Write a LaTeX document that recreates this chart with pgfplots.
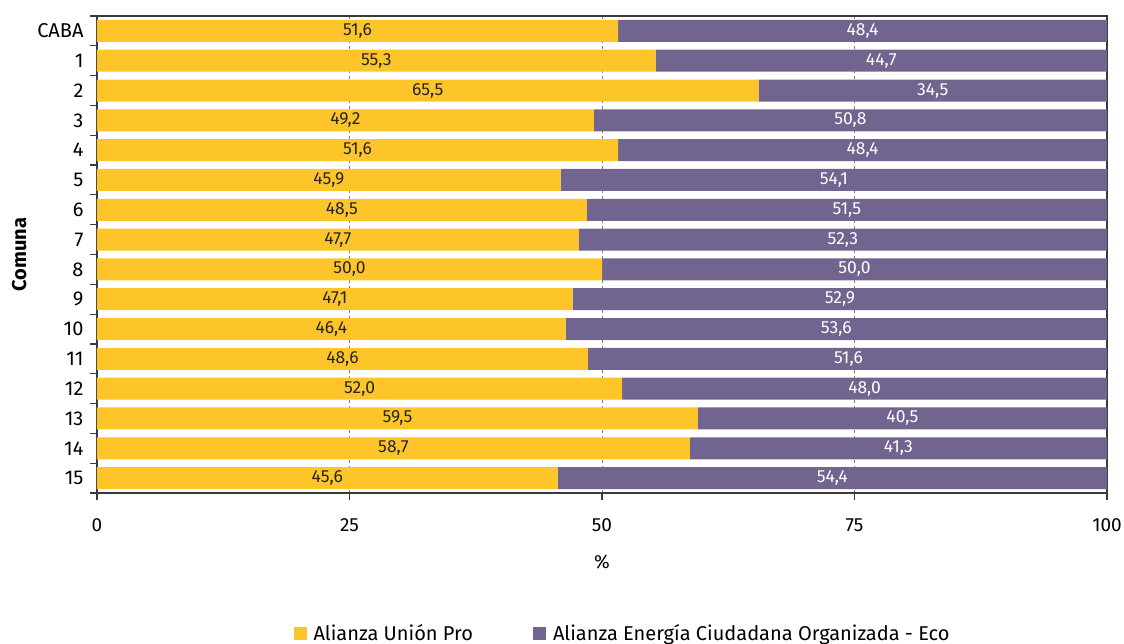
\documentclass[border=0pt]{standalone}
\usepackage{pgfplots}
\pgfplotsset{compat=1.18}
\usepackage{pgfplotstable}
\usepackage{fontspec}
\setmainfont{Fira Sans}
\definecolor{cy}{HTML}{FDC52A}
\definecolor{cp}{HTML}{716590}
\definecolor{axc}{HTML}{3A3A3A}
% idx: 15 = CABA (top), 0 = Comuna 15 (bottom)
\pgfplotstableread{
idx pro eco
15 51.6 48.4
14 55.3 44.7
13 65.5 34.5
12 49.2 50.8
11 51.6 48.4
10 45.9 54.1
9 48.5 51.5
8 47.7 52.3
7 50.0 50.0
6 47.1 52.9
5 46.4 53.6
4 48.6 51.6
3 52.0 48.0
2 59.5 40.5
1 58.7 41.3
0 45.6 54.4
}\data
\pgfplotsset{/pgf/number format/assume math mode=true}
\begin{document}
\begin{tikzpicture}
\path[use as bounding box] (-97pt,-151pt) rectangle (1027pt,493pt);
\begin{axis}[
  at={(0,0)}, anchor=south west,
  width=1010pt, height=477pt, scale only axis,
  xbar stacked, bar width=22pt,
  xmin=0, xmax=100, ymin=-0.5, ymax=15.5,
  xtick={0,25,50,75,100},
  ytick={-0.5,0.5,1.5,2.5,3.5,4.5,5.5,6.5,7.5,8.5,9.5,10.5,11.5,12.5,13.5,14.5,15.5},
  yticklabels={},
  extra y ticks={0,1,2,3,4,5,6,7,8,9,10,11,12,13,14,15},
  extra y tick labels={15,14,13,12,11,10,9,8,7,6,5,4,3,2,1,CABA},
  extra y tick style={major tick length=0pt, tick style={draw=none},
    yticklabel style={xshift=-10pt}},
  xtick pos=bottom, ytick pos=left,
  tick align=outside,
  major tick length=7pt,
  tick style={axc, line width=1.2pt},
  axis line style={axc, line width=1.2pt},
  xmajorgrids,
  major x grid style={dashed, gray, line width=0.8pt},
  font=\fontsize{19}{22}\selectfont,
  xticklabel style={font=\fontsize{19}{22}\selectfont, yshift=-15pt},
  yticklabel style={font=\fontsize{20}{23}\selectfont},
  xlabel={\%},
  xlabel style={yshift=-16pt},
  ylabel={\bfseries Comuna},
  ylabel style={font=\fontsize{20}{23}\selectfont, yshift=-3pt},
  legend columns=2,
  legend style={draw=none, at={(0.5203,-0.2935)}, anchor=center,
    font=\fontsize{20}{23}\selectfont,
    /tikz/every even column/.append style={column sep=58pt}},
  legend image code/.code={\fill[#1] (0pt,-6.5pt) rectangle (13pt,6.5pt); \path (18pt,0pt);},
]
\addplot[fill=cy, draw=none] table[x=pro, y=idx] {\data};
\addlegendentry{Alianza Unión Pro}
\addplot[fill=cp, draw=none] table[x=eco, y=idx] {\data};
\addlegendentry{Alianza Energía Ciudadana Organizada - Eco}
\end{axis}
\begin{axis}[
  at={(0,0)}, anchor=south west,
  width=1010pt, height=477pt, scale only axis,
  xmin=0, xmax=100, ymin=-0.5, ymax=15.5,
  hide axis, clip=false,
  point meta=explicit,
  nodes near coords={\pgfmathprintnumber[fixed,fixed zerofill,precision=1,use comma]{\pgfplotspointmeta}},
  every node near coord/.append style={anchor=center, inner sep=0pt, font=\fontsize{17.5}{20}\selectfont},
]
\addplot[draw=none, mark=none, nodes near coords style={text=black!85}] table[x expr=\thisrow{pro}/2, y=idx, meta=pro] {\data};
\addplot[draw=none, mark=none, nodes near coords style={text=white}] table[x expr=\thisrow{pro}+\thisrow{eco}/2, y=idx, meta=eco] {\data};
\end{axis}
\end{tikzpicture}
\end{document}
